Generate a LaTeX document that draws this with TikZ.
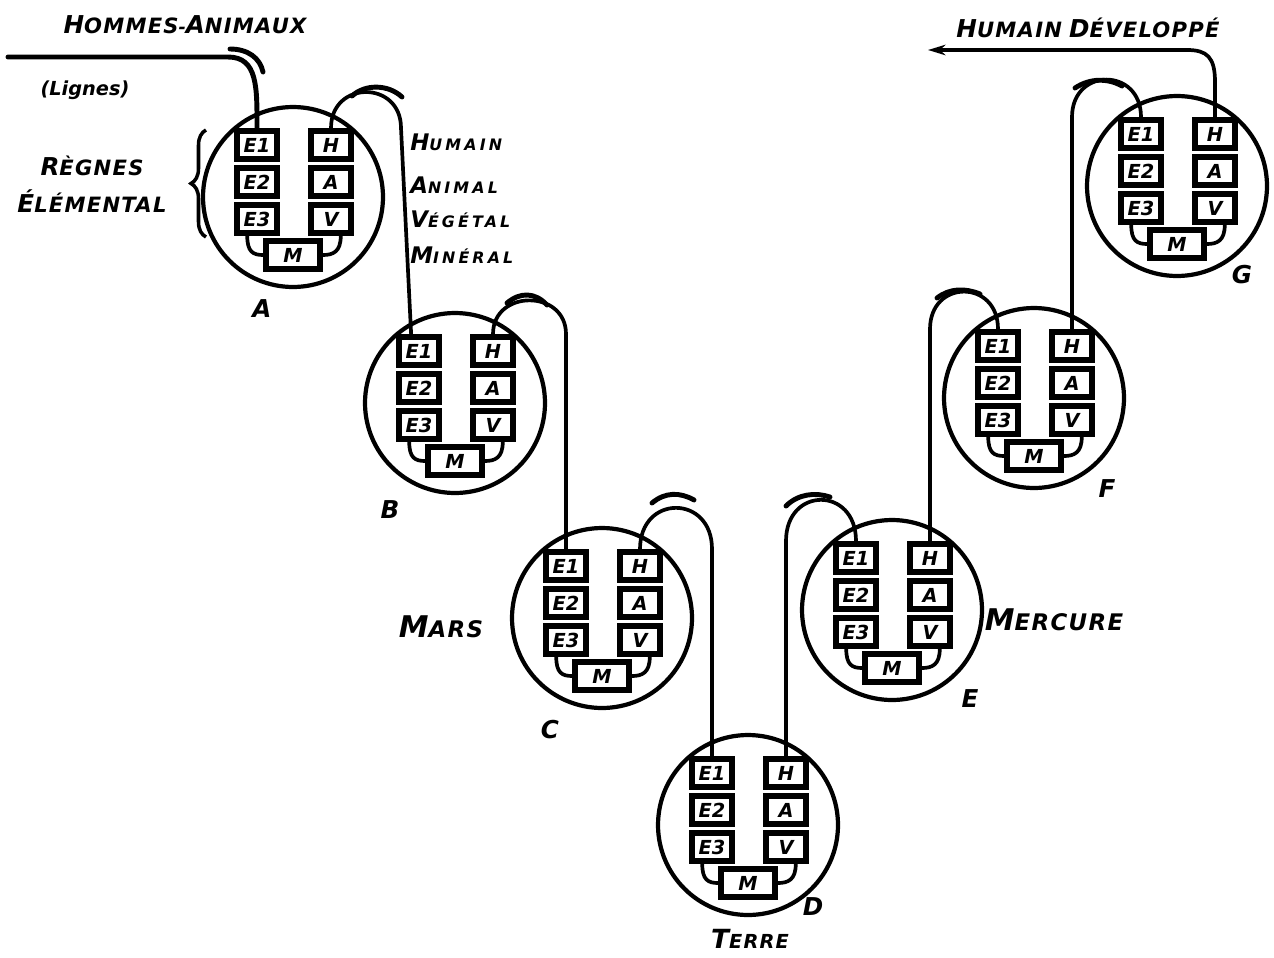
\documentclass[tikz,border=0pt]{standalone}
\usepackage{fontspec}
\setmainfont{DejaVu Sans}
\newfontfamily\platefont[LetterSpace=6]{DejaVu Sans}
\newfontfamily\listfont[LetterSpace=20]{DejaVu Sans}
\usetikzlibrary{arrows.meta,decorations.pathreplacing}
\newcommand\initcap[4]{{\fontsize{#1}{#1}\selectfont #3}{\fontsize{#2}{#2}\selectfont #4}}

\begin{document}
\begin{tikzpicture}[
  x=0.02cm, y=-0.02cm,
  ring/.style={draw, circle, line width=2.4pt, minimum size=3.6cm, inner sep=0pt},
  cell/.style={draw, fill=white, line width=3.6pt, minimum width=0.79cm, minimum height=0.55cm, inner sep=0pt, font=\bfseries\itshape\fontsize{11}{11}\selectfont},
  wire/.style={line width=2.1pt, line cap=round},
  feed/.style={line width=2.8pt, line cap=round},
  flowmark/.style={line width=2.8pt, line cap=round},
  title/.style={font=\platefont\bfseries\itshape, inner sep=0pt, anchor=base},
  kingdom/.style={font=\listfont\bfseries\itshape, inner sep=0pt, anchor=base west},
  tag/.style={font=\platefont\bfseries\itshape\fontsize{14}{14}\selectfont, inner sep=0pt, anchor=base},
  station/.pic={
    \node[ring] (-ring) at (0,0) {};
    \node[cell] (-e1) at (-36,-52) {E1};
    \node[cell] (-e2) at (-36,-15) {E2};
    \node[cell] (-e3) at (-36,22) {E3};
    \node[cell] (-h) at (38,-52) {H};
    \node[cell] (-a) at (38,-15) {A};
    \node[cell] (-v) at (38,22) {V};
    \node[cell, minimum width=1.07cm, minimum height=0.57cm] (-m) at (0,58) {M};
    \draw[wire] (-e3.-120) .. controls +(0,16) and +(-10,0) .. (-m.west);
    \draw[wire] (-v.-60) .. controls +(0,16) and +(10,0) .. (-m.east);
  }
]
\useasboundingbox (0,0) rectangle (1274,957);

\pic (A) at (293,197) {station};
\pic (B) at (455,403) {station};
\pic (C) at (602,618) {station};
\pic (D) at (748,825) {station};
\pic (E) at (892,610) {station};
\pic (F) at (1034,398) {station};
\pic (G) at (1177,186) {station};

\node[tag] (tagA) at (262,317) {A};
\node[tag] (tagB) at (390,518) {B};
\node[tag] (tagC) at (550,738) {C};
\node[tag] (tagD) at (813,915) {D};
\node[tag] (tagE) at (970,707) {E};
\node[tag] (tagF) at (1107,497) {F};
\node[tag] (tagG) at (1242,283) {G};

\node[title] (hommes) at (185,33) {\initcap{14}{12}{H}{OMMES}-\initcap{14}{12}{A}{NIMAUX}};
\node[title, font=\bfseries\itshape\fontsize{11}{11}\selectfont] (lignes) at (85,95) {(Lignes)};
\node[title] (regnes) at (92,175) {\initcap{14}{12}{R}{ÈGNES}};
\node[title] (elemental) at (92,212) {\initcap{14}{12}{É}{LÉMENTAL}};
\node[kingdom] (humain) at (410,150) {\initcap{13}{9}{H}{UMAIN}};
\node[kingdom] (animal) at (410,193) {\initcap{13}{9}{A}{NIMAL}};
\node[kingdom] (vegetal) at (410,227) {\initcap{13}{9}{V}{ÉGÉTAL}};
\node[kingdom] (mineral) at (410,263) {\initcap{13}{9}{M}{INÉRAL}};
\node[title] (mars) at (441,637) {\initcap{17}{13}{M}{ARS}};
\node[title] (mercure) at (1054,630) {\initcap{17}{13}{M}{ERCURE}};
\node[title] (terre) at (750,948) {\initcap{15}{11}{T}{ERRE}};
\node[title] (developpe) at (1088,37) {\initcap{14}{12}{H}{UMAIN} \initcap{14}{12}{D}{ÉVELOPPÉ}};

\draw[line width=2pt, decorate, decoration={brace, amplitude=0.3cm}] (206,237) -- (206,130);

\coordinate (linesin) at (8,57);
\coordinate (linesbend) at (228,57);
\coordinate (hookAB) at (401,128);
\coordinate (devbend) at (1187,50);
\coordinate (devout) at (928,50);

\draw[feed] (linesin) -- (linesbend) .. controls +(30,0) and +(0,-40) .. (A-e1.north);
\draw[wire] (A-h.north) .. controls +(0,-48) and +(0,-48) .. (hookAB) -- (B-e1.115);
\draw[wire] (B-h.north) .. controls +(0,-45) and +(0,-45) .. (C-e1.north |- B-h.north) -- (C-e1.north);
\draw[wire] (C-h.north) .. controls +(0,-55) and +(0,-55) .. (D-e1.north |- C-h.north) -- (D-e1.north);
\draw[wire] (D-h.north) -- (D-h.north |- E-e1.north) .. controls +(0,-55) and +(0,-55) .. (E-e1.north);
\draw[wire] (E-h.north) -- (E-h.north |- F-e1.north) .. controls +(0,-50) and +(0,-50) .. (F-e1.north);
\draw[wire] (F-h.north) -- (F-h.north |- G-e1.north) .. controls +(0,-50) and +(0,-50) .. (G-e1.north);
\draw[wire, -{Stealth[length=10pt, width=6pt]}] (G-h.north) -- ++(0,-35) .. controls +(0,-25) and +(20,0) .. (devbend) -- (devout);

\draw[flowmark] (230,49) .. controls (248,49) and (260,58) .. (263,72);
\draw[flowmark] (352,96) .. controls (365,84) and (388,84) .. (402,97);
\draw[flowmark] (507,303) .. controls (520,292) and (535,292) .. (547,305);
\draw[flowmark] (652,503) .. controls (665,492) and (680,492) .. (694,500);
\draw[flowmark] (786,506) .. controls (798,494) and (815,492) .. (830,497);
\draw[flowmark] (937,298) .. controls (950,288) and (965,288) .. (980,294);
\draw[flowmark] (1075,88) .. controls (1090,78) and (1108,78) .. (1122,86);
\end{tikzpicture}
\end{document}
